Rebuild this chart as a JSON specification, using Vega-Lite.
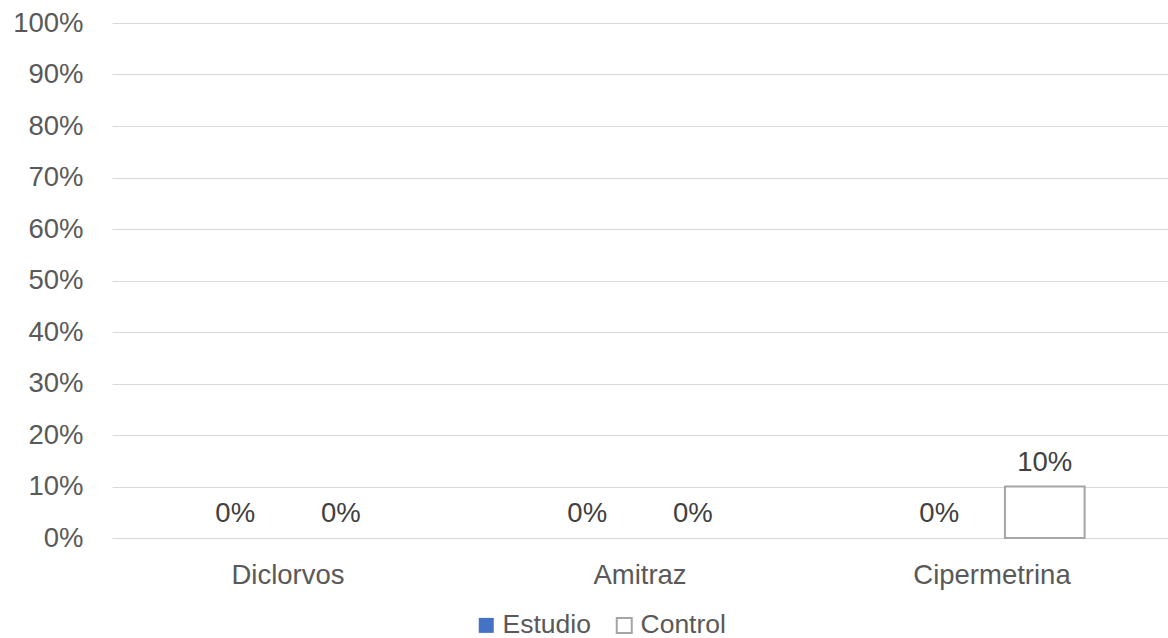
{
  "$schema": "https://vega.github.io/schema/vega-lite/v6.json",
  "width": 1056,
  "height": 515,
  "autosize": {"type": "none"},
  "padding": {"left": 112, "top": 23, "right": 0, "bottom": 100},
  "background": "#ffffff",
  "config": {
    "view": {"stroke": null},
    "font": "Liberation Sans",
    "text": {"font": "Liberation Sans"}
  },
  "data": {
    "values": [
      {"c": "Diclorvos", "s": "Estudio", "v": 0},
      {"c": "Diclorvos", "s": "Control", "v": 0},
      {"c": "Amitraz", "s": "Estudio", "v": 0},
      {"c": "Amitraz", "s": "Control", "v": 0},
      {"c": "Cipermetrina", "s": "Estudio", "v": 0},
      {"c": "Cipermetrina", "s": "Control", "v": 0.1}
    ]
  },
  "encoding": {
    "x": {
      "field": "c",
      "type": "nominal",
      "sort": ["Diclorvos", "Amitraz", "Cipermetrina"],
      "scale": {"paddingInner": 0, "paddingOuter": 0},
      "axis": {
        "title": null,
        "labelAngle": 0,
        "domain": false,
        "ticks": false,
        "labelFontSize": 27.5,
        "labelColor": "#595959",
        "labelPadding": 23
      }
    },
    "xOffset": {
      "field": "s",
      "type": "nominal",
      "sort": ["Estudio", "Control"],
      "scale": {"paddingInner": 0.245, "paddingOuter": 0.79}
    },
    "y": {
      "field": "v",
      "type": "quantitative",
      "scale": {"domain": [0, 1]},
      "axis": {
        "title": null,
        "format": ".0%",
        "values": [0, 0.1, 0.2, 0.3, 0.4, 0.5, 0.6, 0.7, 0.8, 0.9, 1],
        "domain": false,
        "ticks": false,
        "grid": true,
        "gridColor": "#d9d9d9",
        "gridWidth": 1,
        "labelFontSize": 27.5,
        "labelColor": "#595959",
        "labelPadding": 29
      }
    }
  },
  "layer": [
    {
      "mark": {"type": "bar", "strokeWidth": 2},
      "encoding": {
        "fill": {
          "field": "s",
          "type": "nominal",
          "scale": {"domain": ["Estudio", "Control"], "range": ["#4472C4", "#ffffff"]},
          "legend": {
            "title": null,
            "orient": "none",
            "legendX": 361,
            "legendY": 589,
            "direction": "horizontal",
            "symbolType": "square",
            "symbolSize": 225,
            "symbolStrokeWidth": 2,
            "labelFontSize": 26.5,
            "labelColor": "#595959",
            "columnPadding": 20,
            "labelOffset": 3
          }
        },
        "stroke": {
          "field": "s",
          "type": "nominal",
          "scale": {"domain": ["Estudio", "Control"], "range": ["transparent", "#a5a5a5"]}
        },
        "strokeOpacity": {
          "condition": {"test": "datum.v == 0", "value": 0},
          "value": 1
        }
      }
    },
    {
      "mark": {"type": "text", "dy": -16, "baseline": "alphabetic", "fontSize": 27.5, "color": "#404040"},
      "encoding": {
        "text": {"field": "v", "type": "quantitative", "format": ".0%"}
      }
    }
  ]
}
